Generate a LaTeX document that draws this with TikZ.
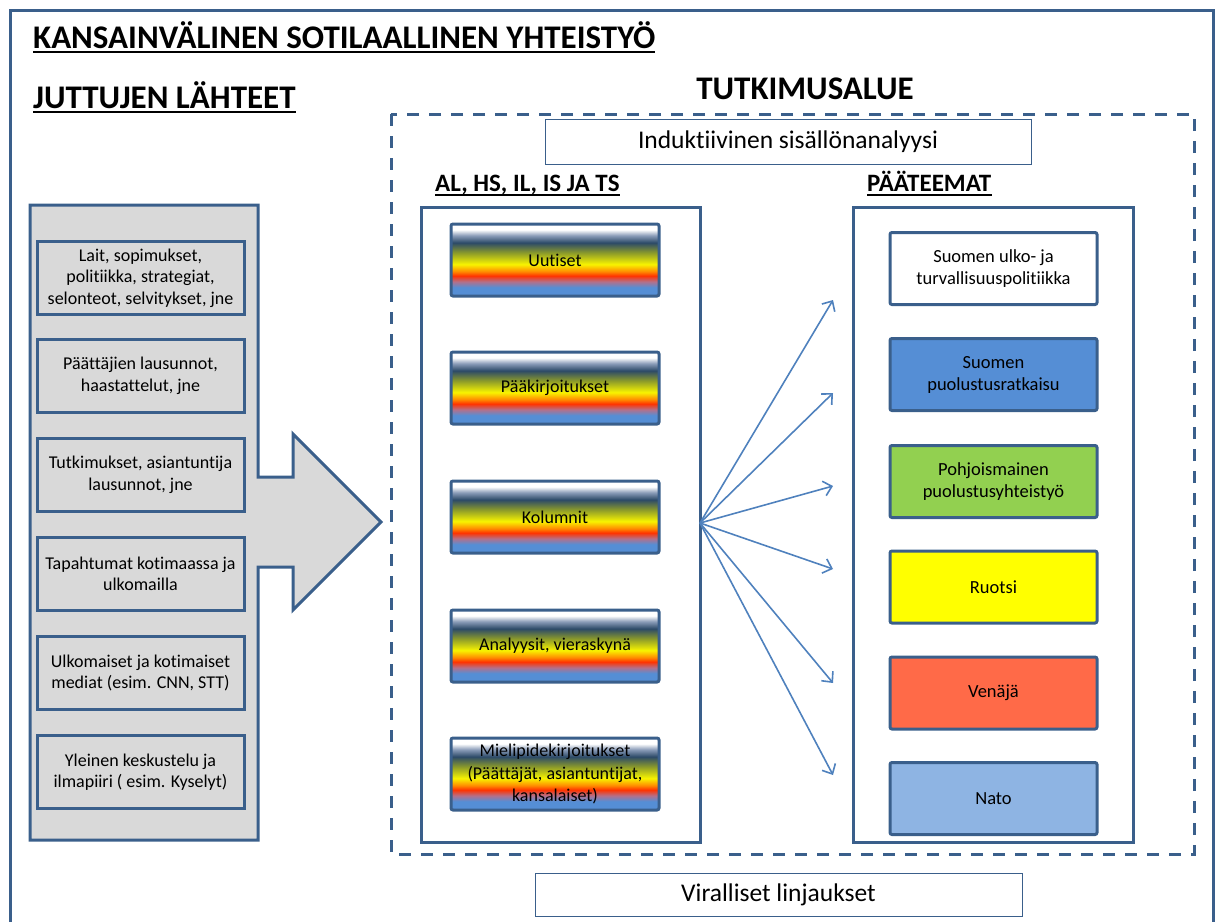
\documentclass[tikz,border=0pt]{standalone}
\usepackage{fontspec}
\setmainfont{Carlito}[Ligatures=NoCommon]
\usetikzlibrary{arrows.meta}

\definecolor{frameblue}{HTML}{3A5F8B}
\definecolor{arrowblue}{HTML}{4F81BD}
\definecolor{srcgray}{HTML}{D9D9D9}
\definecolor{themeblue}{HTML}{558ED5}
\definecolor{themegreen}{HTML}{92D050}
\definecolor{themeyellow}{HTML}{FFFF00}
\definecolor{themeorange}{HTML}{FF6A48}
\definecolor{themelight}{HTML}{8EB4E3}

\definecolor{rbwhite}{HTML}{FFFFFF}
\definecolor{rbslate}{HTML}{8A9CB8}
\definecolor{rbnavy}{HTML}{2C4A68}
\definecolor{rbolive}{HTML}{8C9B2A}
\definecolor{rbyellow}{HTML}{F8F400}
\definecolor{rborange}{HTML}{FF8A00}
\definecolor{rbred}{HTML}{FF3300}
\definecolor{rbmauve}{HTML}{B4708A}
\definecolor{rbblue}{HTML}{558ED5}

\pgfdeclareverticalshading{rainbowbar}{100bp}{%
  color(0bp)=(rbblue); color(25bp)=(rbblue); color(31bp)=(rbblue);
  color(35bp)=(rbmauve); color(39bp)=(rbred); color(42bp)=(rborange);
  color(47bp)=(rbyellow); color(55bp)=(rbolive); color(62bp)=(rbnavy);
  color(67bp)=(rbslate); color(71bp)=(rbwhite); color(75bp)=(rbwhite);
  color(100bp)=(rbwhite)}

\begin{document}
\begin{tikzpicture}[x=1pt,y=-1pt,
    heading/.style={anchor=base west,inner sep=0pt,font=\fontsize{33}{36}\selectfont\bfseries},
    subheading/.style={anchor=base west,inner sep=0pt,font=\fontsize{25}{28}\selectfont\bfseries},
    uline/.style={line width=2pt},
    srcbox/.style={draw=frameblue,line width=3pt,fill=srcgray,minimum width=207pt,
      minimum height=73pt,align=center,font=\fontsize{18}{21.5}\selectfont},
    paperbox/.style={draw=frameblue,line width=3pt,rounded corners=2pt,shading=rainbowbar,
      minimum width=208pt,minimum height=72pt,align=center,font=\fontsize{18}{22.5}\selectfont},
    themebox/.style={draw=frameblue,line width=3pt,rounded corners=2pt,minimum width=207pt,
      minimum height=72pt,align=center,font=\fontsize{18.5}{22}\selectfont},
    notebox/.style={draw=frameblue,line width=1pt,fill=white,align=center,
      font=\fontsize{25.5}{28}\selectfont},
    panel/.style={draw=frameblue,line width=3pt}]
  \useasboundingbox (0,0) rectangle (1222,921);

  % outer frame
  \draw[frameblue,line width=3pt] (10,10) rectangle (1213,940);

  % headings
  \node[heading] (kvs) at (33,48) {KANSAINVÄLINEN SOTILAALLINEN YHTEISTYÖ};
  \draw[uline] ([yshift=-4pt]kvs.base west) -- ([yshift=-4pt]kvs.base east);
  \node[heading] (lahteet) at (33,108) {JUTTUJEN LÄHTEET};
  \draw[uline] ([yshift=-4pt]lahteet.base west) -- ([yshift=-4pt]lahteet.base east);
  \node[heading,anchor=base] (alue) at (805,99) {TUTKIMUSALUE};

  % research area
  \draw[frameblue,line width=3pt,dash pattern=on 12pt off 10pt] (391,114) rectangle (1194,854);
  \node[notebox,minimum width=486pt,minimum height=45pt] (induk) at (788,141.5) {Induktiivinen sisällönanalyysi};
  \node[subheading] (lehdet) at (435,191) {AL, HS, IL, IS JA TS};
  \draw[uline] ([yshift=-4pt]lehdet.base west) -- ([yshift=-4pt]lehdet.base east);
  \node[subheading] (teemat) at (867,191) {PÄÄTEEMAT};
  \draw[uline] ([yshift=-4pt]teemat.base west) -- ([yshift=-4pt]teemat.base east);
  \draw[panel] (421,207) rectangle (700,842);
  \draw[panel] (853,207) rectangle (1133,842);
  \node[notebox,minimum width=487pt,minimum height=43pt] (viral) at (778.5,894.5) {Viralliset linjaukset};

  % sources arrow
  \draw[frameblue,fill=srcgray,line width=3pt,line join=miter]
    (30,205) -- (258,205) -- (258,477) -- (293,477) -- (293,434) -- (381,522)
    -- (293,610) -- (293,567) -- (258,567) -- (258,840) -- (30,840) -- cycle;
  \node[srcbox] (s1) at (140.5,278) {Lait, sopimukset,\\politiikka, strategiat,\\selonteot, selvitykset, jne};
  \node[srcbox] (s2) at (140.5,376) {Päättäjien lausunnot,\\haastattelut, jne};
  \node[srcbox] (s3) at (140.5,475) {Tutkimukset, asiantuntija\\lausunnot, jne};
  \node[srcbox] (s4) at (140.5,574) {Tapahtumat kotimaassa ja\\ulkomailla};
  \node[srcbox] (s5) at (140.5,673) {Ulkomaiset ja kotimaiset\\mediat (esim. CNN, STT)};
  \node[srcbox] (s6) at (140.5,772) {Yleinen keskustelu ja\\ilmapiiri ( esim. Kyselyt)};

  % newspaper genres
  \node[paperbox] (p1) at (555,260) {Uutiset};
  \node[paperbox] (p2) at (555,388) {Pääkirjoitukset};
  \node[paperbox] (p3) at (555,517) {Kolumnit};
  \node[paperbox] (p4) at (555,646) {Analyysit, vieraskynä};
  \node[paperbox] (p5) at (555,774) {Mielipidekirjoitukset\\(Päättäjät, asiantuntijat,\\kansalaiset)};

  % main themes
  \node[themebox,fill=white] (t1) at (993.5,268.5) {Suomen ulko- ja\\turvallisuuspolitiikka};
  \node[themebox,fill=themeblue] (t2) at (993.5,374.5) {Suomen\\puolustusratkaisu};
  \node[themebox,fill=themegreen] (t3) at (993.5,481.5) {Pohjoismainen\\puolustusyhteistyö};
  \node[themebox,fill=themeyellow] (t4) at (993.5,587) {Ruotsi};
  \node[themebox,fill=themeorange] (t5) at (993.5,693) {Venäjä};
  \node[themebox,fill=themelight] (t6) at (993.5,798.5) {Nato};

  % fan of arrows
  \coordinate (hub) at (700,523);
  \coordinate (a1) at (833,300);
  \coordinate (a2) at (833,393);
  \coordinate (a3) at (833,486);
  \coordinate (a4) at (833,569);
  \coordinate (a5) at (833,683);
  \coordinate (a6) at (833,775);
  \begin{scope}[arrowblue,line width=1.6pt,-{Straight Barb[length=8pt,width=15pt]}]
    \draw (hub) to (a1);
    \draw (hub) to (a2);
    \draw (hub) to (a3);
    \draw (hub) to (a4);
    \draw (hub) to (a5);
    \draw (hub) to (a6);
  \end{scope}
\end{tikzpicture}
\end{document}
